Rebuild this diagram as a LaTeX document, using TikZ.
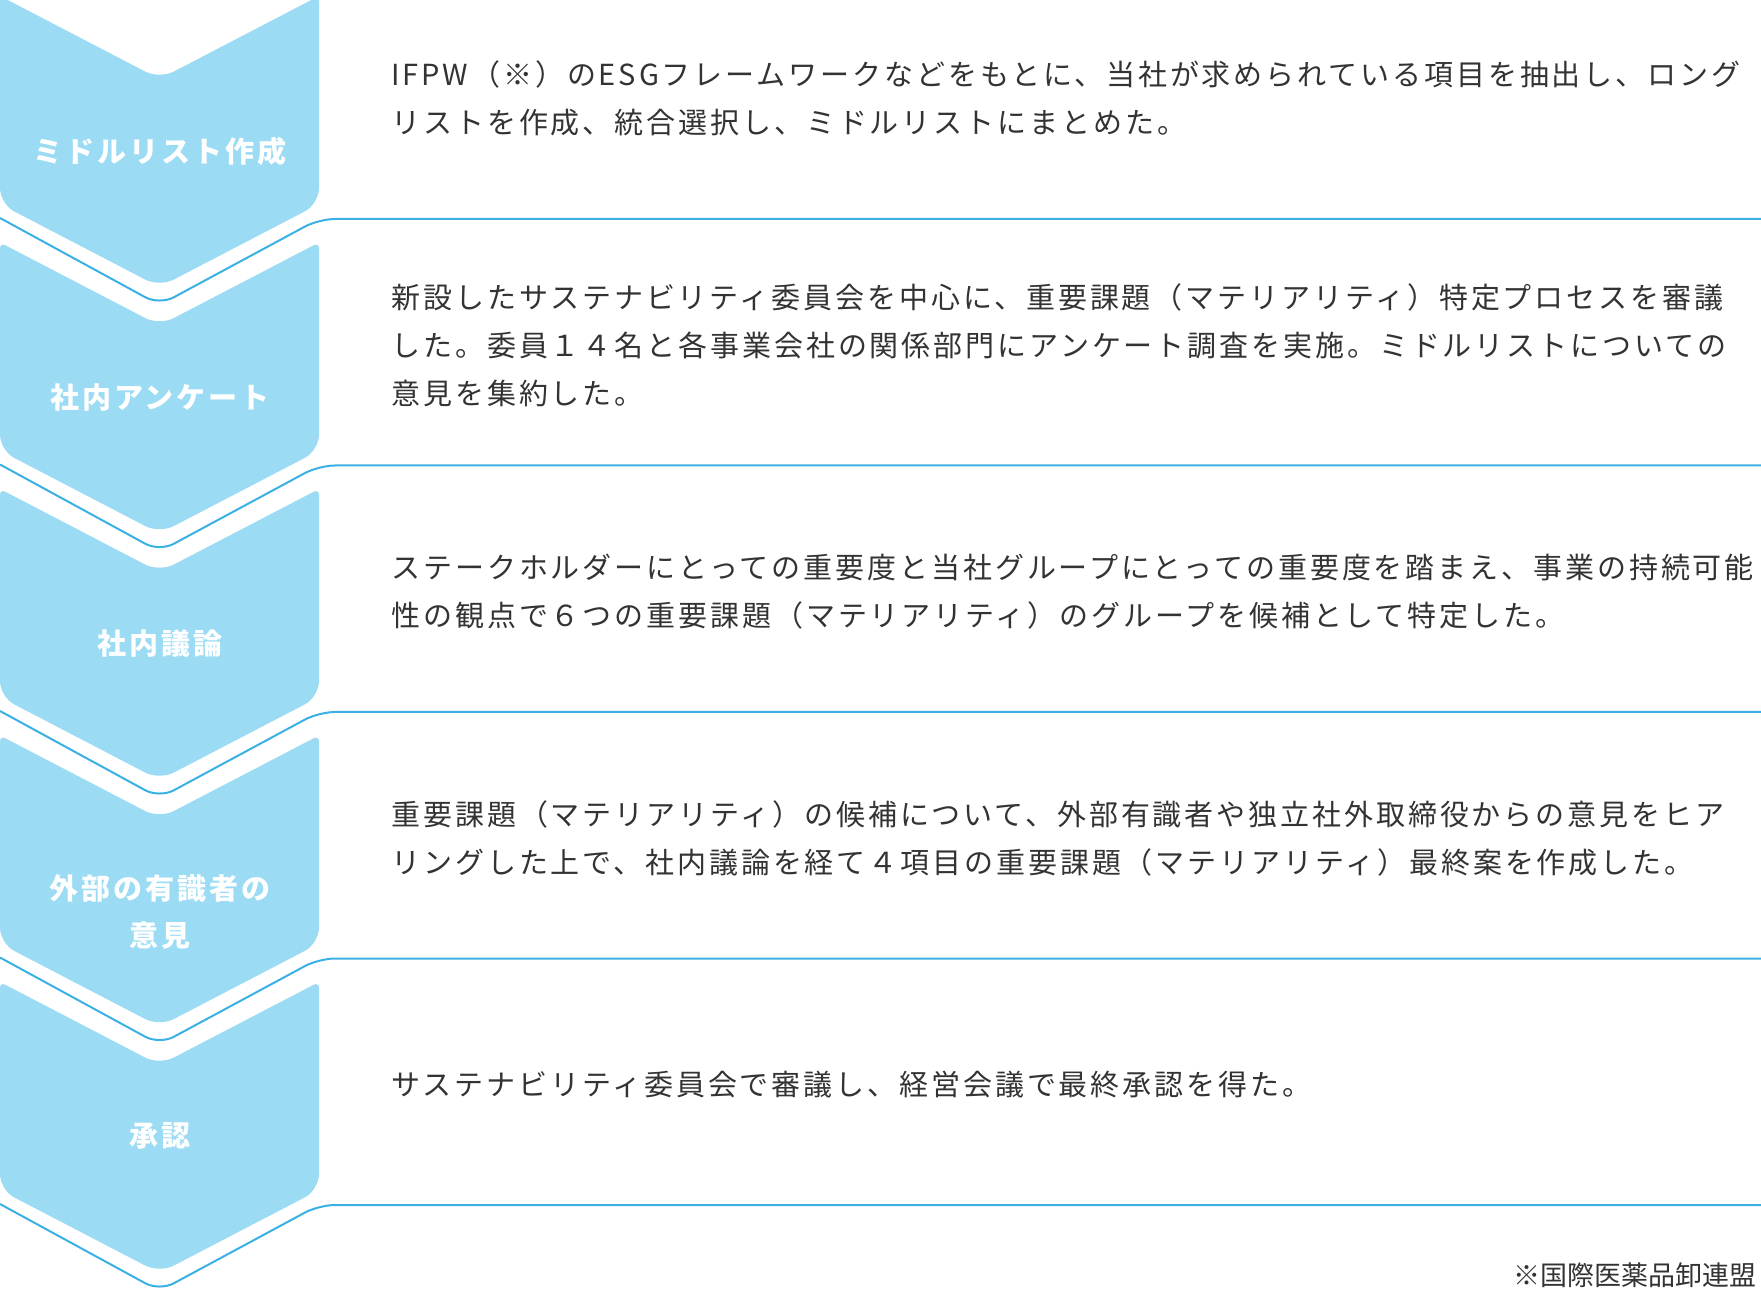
\documentclass[tikz,border=0pt]{standalone}
\usepackage{fontspec}
\setmainfont{Noto Sans CJK JP}[LetterSpace=10]
\newfontfamily\footfont{Noto Sans CJK JP}
\definecolor{chev}{RGB}{155,219,243}
\definecolor{lineblue}{RGB}{58,176,228}
\definecolor{txt}{RGB}{51,51,51}
\tikzset{
  chevshape/.style={fill=chev},
  sepline/.style={draw=lineblue, line width=1pt},
  bodytext/.style={anchor=west, align=left, inner sep=0pt, text=txt, font=\fontsize{14.5}{24}\selectfont},
  steplabel/.style={anchor=north, align=center, inner sep=0pt, text=white, font=\fontsize{14.5}{23.5}\selectfont\bfseries},
  foottext/.style={anchor=east, inner sep=0pt, text=txt, font=\footfont\fontsize{13.5}{16}\selectfont}
}
\begin{document}
\begin{tikzpicture}[x=0.5pt,y=-0.5pt]
\useasboundingbox (0,0) rectangle (1761,1293);
% chevrons and separator lines
\foreach \k in {0,1,2,3,4}{
  \pgfmathsetmacro{\d}{246.5*\k}
  \fill[chevshape] (0,100+\d) [rounded corners=3pt] -- (0,-4+\d) [rounded corners=8pt] -- (159.5,79+\d)
     [rounded corners=3pt] -- (319,-4+\d) [rounded corners=8pt] -- (319,204+\d)
     [rounded corners=8pt] -- (159.5,287+\d) [rounded corners=8pt] -- (0,204+\d) [rounded corners=8pt] -- cycle;
  \pgfmathsetmacro{\Y}{219+246.5*\k}
  \coordinate (l\k a) at (0,\Y-1);
  \coordinate (l\k b) at (159.5,\Y+86);
  \coordinate (l\k c) at (319,\Y);
  \coordinate (l\k d) at (1761,\Y);
  \draw[sepline] (l\k a) [rounded corners=8pt] -- (l\k b) [rounded corners=8pt] -- (l\k c) -- (l\k d);
}
% step labels
\node[steplabel] (s1) at (160,136.5) {ミドルリスト作成};
\node[steplabel] (s2) at (160,136.5+246.5) {社内アンケート};
\node[steplabel] (s3) at (160,136.5+493) {社内議論};
\node[steplabel] (s4) at (160,134.5+739.5) {外部の有識者の\\意見};
\node[steplabel] (s5) at (160,136.5+986) {承認};
% descriptions
\node[bodytext] (t1) at (391,98.5) {IFPW（※）のESGフレームワークなどをもとに、当社が求められている項目を抽出し、ロング\\リストを作成、統合選択し、ミドルリストにまとめた。};
\node[bodytext] (t2) at (391,98.5+246.5) {新設したサステナビリティ委員会を中心に、重要課題（マテリアリティ）特定プロセスを審議\\した。委員１４名と各事業会社の関係部門にアンケート調査を実施。ミドルリストについての\\意見を集約した。};
\node[bodytext] (t3) at (391,98.5+493) {ステークホルダーにとっての重要度と当社グループにとっての重要度を踏まえ、事業の持続可能\\性の観点で６つの重要課題（マテリアリティ）のグループを候補として特定した。};
\node[bodytext] (t4) at (391,98.5+739.5) {重要課題（マテリアリティ）の候補について、外部有識者や独立社外取締役からの意見をヒア\\リングした上で、社内議論を経て４項目の重要課題（マテリアリティ）最終案を作成した。};
\node[bodytext] (t5) at (391,98.5+986) {サステナビリティ委員会で審議し、経営会議で最終承認を得た。};
% footnote
\node[foottext] (fn) at (1757,1275) {※国際医薬品卸連盟};
\end{tikzpicture}
\end{document}
